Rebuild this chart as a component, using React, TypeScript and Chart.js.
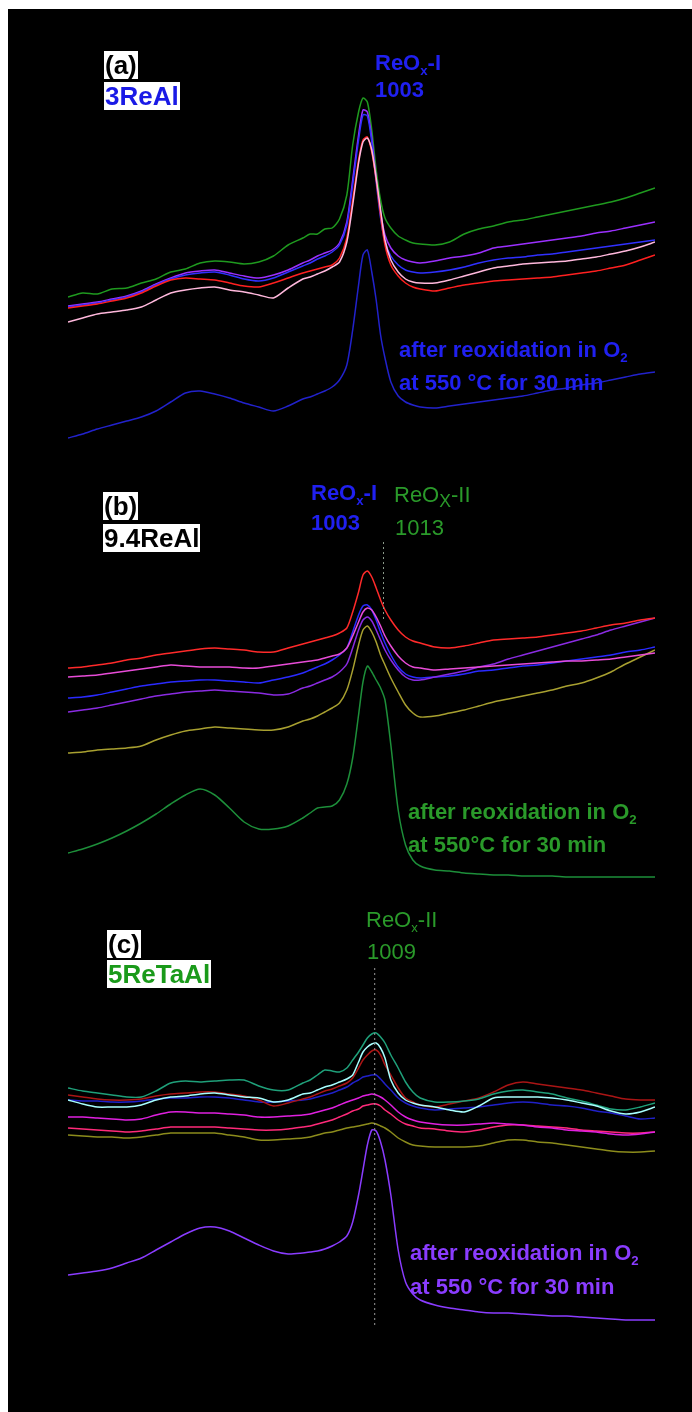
import React, { useEffect, useRef } from "react";
import { Chart, registerables } from "chart.js";
Chart.register(...registerables);

// Raman shift (cm-1) sample positions shared by all spectra
const wavenumber = [800,810,820,830,840,850,860,870,880,890,900,910,920,930,940,950,960,965,970,975,980,985,990,994,998,1001,1004,1007,1010,1013,1016,1020,1025,1030,1035,1040,1050,1060,1070,1080,1090,1100,1110,1120,1130,1140,1150,1160,1170,1180,1190,1200];

// Panel (a) 3ReAl – offset intensities (a.u.)
const aGreen = [173,177,176,181,182,187,191,198,201,207,209,208,206,208,214,225,232,236,236,241,242,251,275,325,358,372,368,340,300,270,252,242,234,230,227,226,225,228,236,241,244,248,250,253,256,259,262,265,268,272,277,282];
const aPurple = [164,166,168,171,174,179,186,192,197,199,200,197,194,192,195,200,207,210,214,217,220,227,248,290,335,360,358,332,292,258,235,222,214,210,208,207,209,212,214,217,222,224,226,228,230,232,234,237,239,242,245,248];
const aBlue = [163,165,167,170,173,178,185,191,195,197,198,195,191,189,192,198,204,207,211,214,218,225,245,285,330,355,354,328,288,252,228,214,205,200,198,197,198,200,203,207,210,212,213,215,216,218,220,222,224,226,228,230];
const aRed = [162,164,166,169,172,177,184,190,192,191,190,187,184,183,187,192,197,199,201,203,205,212,232,270,310,330,333,318,290,255,225,205,194,187,183,181,179,182,185,187,189,190,191,192,193,195,197,199,202,205,210,215];
const aPink = [148,152,156,158,160,163,170,177,180,182,183,180,178,175,172,182,191,193,196,199,203,208,228,265,307,328,332,320,292,260,230,210,198,191,188,187,187,190,194,198,202,204,206,207,208,209,211,213,216,219,223,228];
const aReox = [32,36,41,45,49,53,59,68,77,79,76,72,67,63,59,64,71,73,76,79,83,90,105,140,185,215,220,198,170,135,112,88,74,68,65,63,62,64,66,68,70,72,74,77,80,82,85,87,90,93,96,98];

// Panel (b) 9.4ReAl
const bRed = [232,233,235,237,240,242,245,247,249,251,252,251,250,248,248,252,256,258,260,262,264,267,272,288,308,325,329,323,312,300,290,280,270,263,259,257,253,252,254,257,260,261,262,263,265,267,269,272,275,277,280,282];
const bMagenta = [223,224,225,227,229,231,233,235,234,233,233,233,232,232,234,236,238,239,240,242,244,246,252,264,278,288,292,290,283,274,264,254,244,237,233,232,230,231,232,233,234,235,236,237,238,239,239,240,241,243,245,247];
const bBlue = [202,203,205,208,211,214,216,218,219,220,220,219,218,217,220,223,227,230,233,236,240,245,252,268,285,294,295,290,280,268,257,245,233,226,223,222,223,224,226,229,230,232,234,235,237,239,241,243,245,248,250,253];
const bPurple = [188,190,192,195,198,201,204,206,208,209,210,209,208,207,205,206,212,214,217,220,223,228,236,252,270,280,283,279,270,260,250,240,230,223,220,220,223,226,229,233,236,241,245,249,253,257,261,265,270,274,278,282];
const bOlive = [147,148,150,151,152,154,160,165,169,171,173,172,171,170,170,173,179,181,184,188,192,197,210,230,255,270,274,268,258,245,235,222,208,195,187,183,184,187,190,194,198,201,204,207,210,214,217,222,228,236,243,250];
const bReox = [47,51,56,62,69,77,86,96,105,111,105,92,78,71,71,74,82,87,92,93,94,100,116,142,185,218,234,228,220,212,200,155,90,55,40,34,30,29,27,26,25,25,24,24,24,23,23,23,23,23,23,23];

// Panel (c) 5ReTaAl
const cTeal = [324,321,319,317,315,315,321,329,331,330,331,332,332,326,322,322,329,332,337,342,341,340,344,352,360,367,374,378,379,375,369,357,344,330,320,314,310,310,311,313,318,321,322,320,318,314,311,307,303,302,305,309];
const cCyan = [312,308,305,305,305,307,312,315,316,318,319,317,315,314,310,312,318,319,322,325,327,330,333,337,350,360,365,368,369,364,354,332,319,312,309,307,305,302,300,306,314,315,315,315,314,312,309,306,301,298,300,305];
const cRed = [317,315,313,312,312,313,316,318,319,320,320,318,316,312,306,309,313,315,318,321,323,326,329,334,344,352,357,361,362,357,347,337,324,314,310,307,305,308,311,314,320,327,330,328,326,324,322,319,316,313,312,312];
const cBlue = [312,311,311,310,310,311,313,314,314,315,315,314,312,310,310,311,312,313,315,317,319,322,325,329,332,335,336,337,337,333,328,322,314,309,306,304,302,303,304,305,307,309,310,309,307,306,304,301,299,296,293,294];
const cMagenta = [295,295,294,293,292,293,297,300,300,299,299,298,297,295,295,296,297,298,300,302,304,307,310,312,314,316,317,318,317,315,312,307,300,295,292,290,288,287,287,288,289,288,287,285,284,282,281,280,278,277,278,280];
const cCrimson = [284,283,282,281,280,281,283,285,285,285,285,284,283,282,282,283,285,286,288,290,292,295,298,301,303,306,307,308,308,306,302,298,292,288,286,284,283,281,280,282,285,287,287,286,285,284,282,281,280,279,279,280];
const cOlive = [277,276,275,275,274,275,277,279,279,279,279,277,275,272,272,273,274,275,277,279,280,282,284,285,286,287,288,289,288,286,284,280,274,270,267,266,265,265,265,266,269,272,272,270,269,267,265,263,261,260,260,261];
const cReox = [137,139,141,144,149,154,162,170,178,184,185,181,174,167,161,158,159,160,161,163,166,170,176,190,217,242,267,282,281,270,252,217,162,130,118,112,107,104,102,100,99,99,98,97,96,96,95,94,93,92,92,92];

// Marker lines: [position (cm-1), from, to]
const bMarker = [1015, 358, 280];
const cMarker = [1009, 444, 84];

type Series = { values: number[]; color: string; width?: number };

function SpectrumPanel(props: { top: number; height: number; series: Series[]; marker?: number[]; markerColor?: string }) {
  const ref = useRef<HTMLCanvasElement | null>(null);
  useEffect(() => {
    const datasets: any[] = [];
    if (props.marker) {
      const [mx, a, b] = props.marker;
      datasets.push({
        data: [{ x: mx, y: a }, { x: mx, y: b }],
        borderColor: props.markerColor || "#aaaaaa",
        borderWidth: 1,
        borderDash: [2, 3],
        pointRadius: 0,
      });
    }
    for (const s of props.series) {
      datasets.push({
        data: wavenumber.map((x, i) => ({ x, y: s.values[i] })),
        borderColor: s.color,
        borderWidth: s.width ?? 1.5,
        pointRadius: 0,
        tension: 0.25,
      });
    }
    const chart = new Chart(ref.current as HTMLCanvasElement, {
      type: "line",
      data: { datasets },
      options: {
        animation: false,
        responsive: false,
        events: [],
        layout: { padding: { left: 60, right: 37, top: 0, bottom: 0 } },
        plugins: { legend: { display: false }, tooltip: { enabled: false } },
        scales: {
          x: { type: "linear", min: 800, max: 1200, display: false },
          y: { type: "linear", min: 0, max: props.height, display: false },
        },
      },
    });
    return () => chart.destroy();
  }, []);
  return (
    <canvas
      ref={ref}
      width={684}
      height={props.height}
      style={{ position: "absolute", left: 0, top: props.top, width: 684, height: props.height }}
    />
  );
}

const FONT = "'Liberation Sans', Arial, sans-serif";

function Txt(props: { x: number; y: number; color: string; size: number; bold?: boolean; box?: boolean; children: any }) {
  const lh = props.box ? 28 : Math.round(props.size * 1.2);
  return (
    <div
      style={{
        position: "absolute",
        left: props.x - 8,
        top: props.y - 9 - lh / 2,
        color: props.color,
        fontFamily: FONT,
        fontSize: props.size,
        fontWeight: props.bold === false ? "normal" : "bold",
        lineHeight: lh + "px",
        whiteSpace: "nowrap",
        background: props.box ? "#ffffff" : "transparent",
        padding: props.box ? "0 1px" : 0,
      }}
    >
      {props.children}
    </div>
  );
}

const subX = { fontSize: "60%", verticalAlign: "-0.35em" } as const;
const subBig = { fontSize: "80%", verticalAlign: "-0.3em" } as const;

export default function App() {
  const BLUE = "#2020f0";
  const GREEN = "#2a9a2a";
  const VIOLET = "#8a3cff";
  return (
    <div style={{ position: "absolute", left: 8, top: 9, width: 684, height: 1403, background: "#000", overflow: "hidden" }}>
      <SpectrumPanel
        top={0}
        height={461}
        series={[
          { values: aPink, color: "#ffb8dc" },
          { values: aRed, color: "#ff2020" },
          { values: aBlue, color: "#3030ff" },
          { values: aPurple, color: "#9b30ff" },
          { values: aGreen, color: "#1f9a1f" },
          { values: aReox, color: "#2222cc" },
        ]}
      />
      <SpectrumPanel
        top={461}
        height={430}
        marker={bMarker}
        markerColor="#8a9a8a"
        series={[
          { values: bRed, color: "#ff2a2a" },
          { values: bMagenta, color: "#e84cd8" },
          { values: bPurple, color: "#8a2be2" },
          { values: bBlue, color: "#2a2aff" },
          { values: bOlive, color: "#a8a030" },
          { values: bReox, color: "#1d8f3a" },
        ]}
      />
      <SpectrumPanel
        top={891}
        height={512}
        marker={cMarker}
        markerColor="#9a9a9a"
        series={[
          { values: cCyan, color: "#a8ffff" },
          { values: cTeal, color: "#1fa07a" },
          { values: cRed, color: "#aa1515" },
          { values: cBlue, color: "#2020c8" },
          { values: cMagenta, color: "#e020e0" },
          { values: cCrimson, color: "#ff2a7a" },
          { values: cOlive, color: "#8c8c1c" },
          { values: cReox, color: "#8a3cff" },
        ]}
      />

      {/* Panel (a) */}
      <Txt x={104} y={65} color="#000" size={26} box>(a)</Txt>
      <Txt x={104} y={95.5} color="#1a1ae6" size={26} box>3ReAl</Txt>
      <Txt x={375} y={63} color={BLUE} size={22}>ReO<span style={subX}>x</span>-I</Txt>
      <Txt x={375} y={90} color={BLUE} size={22}>1003</Txt>
      <Txt x={399} y={350} color={BLUE} size={22}>after reoxidation in O<span style={subX}>2</span></Txt>
      <Txt x={399} y={383} color={BLUE} size={22}>at 550 °C for 30 min</Txt>

      {/* Panel (b) */}
      <Txt x={103} y={506} color="#000" size={26} box>(b)</Txt>
      <Txt x={103} y={538} color="#000" size={26} box>9.4ReAl</Txt>
      <Txt x={311} y={493} color={BLUE} size={22}>ReO<span style={subX}>x</span>-I</Txt>
      <Txt x={311} y={523} color={BLUE} size={22}>1003</Txt>
      <Txt x={394} y={495} color={GREEN} size={22} bold={false}>ReO<span style={subBig}>X</span>-II</Txt>
      <Txt x={395} y={528} color={GREEN} size={22} bold={false}>1013</Txt>
      <Txt x={408} y={812} color={GREEN} size={22}>after reoxidation in O<span style={subX}>2</span></Txt>
      <Txt x={408} y={845} color={GREEN} size={22}>at 550°C for 30 min</Txt>

      {/* Panel (c) */}
      <Txt x={107} y={943.5} color="#000" size={26} box>(c)</Txt>
      <Txt x={107} y={974} color="#1a9a1a" size={26} box>5ReTaAl</Txt>
      <Txt x={366} y={920} color={GREEN} size={22} bold={false}>ReO<span style={subX}>x</span>-II</Txt>
      <Txt x={367} y={952} color={GREEN} size={22} bold={false}>1009</Txt>
      <Txt x={410} y={1253} color={VIOLET} size={22}>after reoxidation in O<span style={subX}>2</span></Txt>
      <Txt x={410} y={1287} color={VIOLET} size={22}>at 550 °C for 30 min</Txt>
    </div>
  );
}
